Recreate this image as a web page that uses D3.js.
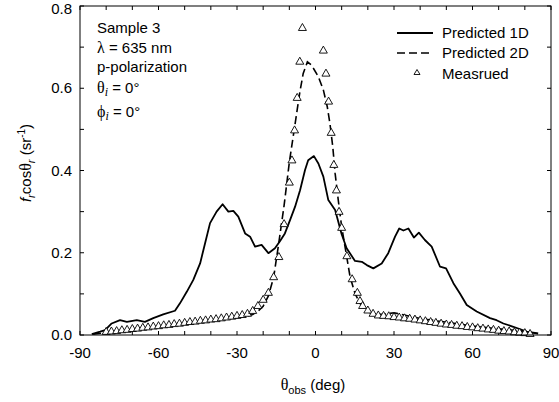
<!DOCTYPE html>
<html><head><meta charset="utf-8">
<script src="https://cdn.jsdelivr.net/npm/d3@7"></script>
<style>body{margin:0;background:#fff}svg{display:block}text{font-family:"Liberation Sans",Arial,sans-serif;fill:#000}</style>
</head><body>
<script>
// Predicted 1D (solid)
const solidX = [-85.5,-82.3,-80.4,-77.9,-74.7,-72.1,-68.3,-65.2,-62,-58.2,-53.7,-51.8,-49.2,-46.7,-44.1,-42.2,-40.3,-37.8,-35.5,-33.3,-31.4,-29.5,-26.9,-25,-23.1,-20.6,-18,-15.5,-13.6,-11.7,-9.7,-7.8,-5.9,-4.0,-2.8,-0.6,1.1,3.0,4.9,7.5,10,11.9,15.1,17.7,19.6,22.1,25.3,27.8,30.4,32,33.6,35.5,37.6,39.5,41.8,44.4,47.6,49.9,52.7,55.2,57.8,61.6,66.7,69.2,71.8,75.6,80.7,85.1];
const solidY = [0.002,0.008,0.012,0.028,0.036,0.032,0.036,0.032,0.041,0.050,0.059,0.077,0.105,0.134,0.174,0.223,0.272,0.300,0.318,0.300,0.302,0.288,0.247,0.239,0.215,0.219,0.199,0.211,0.228,0.247,0.280,0.312,0.352,0.401,0.425,0.435,0.417,0.385,0.328,0.304,0.245,0.211,0.180,0.178,0.170,0.162,0.174,0.199,0.239,0.259,0.254,0.259,0.237,0.249,0.231,0.215,0.166,0.162,0.126,0.101,0.073,0.057,0.041,0.036,0.028,0.020,0.008,0.004];
// Predicted 2D (dashed)
const dashedX = [-85,-80,-70,-60,-50,-40,-30,-26,-24,-22,-20,-18,-16,-14,-12,-10,-8,-6,-4.7,-3.1,-1.5,1.1,3.0,4.5,5.5,6.6,7.5,8.7,10,11.7,13.2,15.1,17,19.6,22,26,30,33,40,50,60,70,80,85];
const dashedY = [0.002,0.006,0.013,0.020,0.027,0.034,0.042,0.046,0.050,0.058,0.070,0.095,0.140,0.225,0.315,0.420,0.505,0.590,0.636,0.664,0.656,0.628,0.596,0.555,0.515,0.458,0.393,0.328,0.263,0.199,0.142,0.101,0.077,0.057,0.052,0.050,0.054,0.050,0.040,0.031,0.022,0.015,0.009,0.003];
// Measured (triangles)
const measX = [-80,-78,-76,-74,-72,-70,-68,-66,-64,-62,-60,-58,-56,-54,-52,-50,-48,-46,-44,-42,-40,-38,-36,-34,-32,-30,-28,-26,-24,-22,-20,-18,-16,-14,-12,-10,-9,-8,-7,-6,-5,
  3,4,5,6,7,8,9,10,12,14,16,17,18,20,22,24,26,28,30,32,34,36,38,40,42,44,46,48,50,52,54,56,58,60,62,64,66,68,70,72,74,76,78,80,82];
const measY = [0.010,0.011,0.012,0.014,0.015,0.017,0.018,0.020,0.021,0.023,0.024,0.026,0.027,0.029,0.030,0.032,0.034,0.035,0.037,0.038,0.040,0.041,0.043,0.045,0.047,0.049,0.051,0.054,0.061,0.073,0.088,0.105,0.143,0.192,0.272,0.373,0.427,0.500,0.579,0.667,0.749,
  0.694,0.638,0.570,0.494,0.416,0.354,0.302,0.263,0.194,0.138,0.105,0.085,0.073,0.062,0.054,0.050,0.049,0.048,0.046,0.045,0.043,0.042,0.040,0.038,0.036,0.034,0.032,0.030,0.028,0.027,0.025,0.024,0.022,0.021,0.019,0.018,0.016,0.015,0.013,0.012,0.011,0.009,0.008,0.007,0.005];
const xTickLabels = [-90,-60,-30,0,30,60,90];
const yTickLabels = ["0.0","0.2","0.4","0.6","0.8"];
const legendLabels = ["Predicted 1D","Predicted 2D","Measrued"];
const infoLines = ["Sample 3","λ = 635 nm","p-polarization","θi = 0°","ϕi = 0°"];

const W = 559, H = 402;
const L = 80, R = 551, T = 6, B = 335;
const svg = d3.select("body").append("svg").attr("width", W).attr("height", H);
const x = d3.scaleLinear().domain([-90, 90]).range([L, R]);
const y = d3.scaleLinear().domain([0, 0.8]).range([B, T]);

// ticks (inside)
const g = svg.append("g");
const xt = d3.range(-90, 91, 10), yt = d3.range(0, 0.801, 0.1);
g.selectAll(".xb").data(xt).join("line").attr("x1", d=>x(d)).attr("x2", d=>x(d)).attr("y1", B).attr("y2", B-4).attr("stroke","#000");
g.selectAll(".xt").data(xt).join("line").attr("x1", d=>x(d)).attr("x2", d=>x(d)).attr("y1", T).attr("y2", T+4).attr("stroke","#000");
g.selectAll(".yl").data(yt).join("line").attr("y1", d=>y(d)).attr("y2", d=>y(d)).attr("x1", L).attr("x2", L+4).attr("stroke","#000");
g.selectAll(".yr").data(yt).join("line").attr("y1", d=>y(d)).attr("y2", d=>y(d)).attr("x1", R).attr("x2", R-4).attr("stroke","#000");

svg.append("g").selectAll("text").data(xTickLabels).join("text")
  .attr("x", d=>x(d)).attr("y", 358).attr("text-anchor","middle").attr("font-size",15).text(d=>d);
svg.append("g").selectAll("text").data(yTickLabels).join("text")
  .attr("x", 72).attr("y", d=>Math.max(y(+d)+5, 13.5)).attr("text-anchor","end").attr("font-size",15).text(d=>d);

// lines
const lineGen = d3.line().x(d=>x(d[0])).y(d=>y(d[1]));
svg.append("path").datum(dashedX.map((v,i)=>[v,dashedY[i]])).attr("d", lineGen)
  .attr("fill","none").attr("stroke","#000").attr("stroke-width",1.6).attr("stroke-dasharray","8,4");
svg.append("path").datum(solidX.map((v,i)=>[v,solidY[i]])).attr("d", lineGen)
  .attr("fill","none").attr("stroke","#000").attr("stroke-width",1.8).attr("stroke-linejoin","round");

// triangles
function tri(w,h){return `M0,${-h/2}L${w/2},${h/2}L${-w/2},${h/2}Z`;}
svg.append("g").selectAll("path").data(measX.map((v,i)=>[v,measY[i]])).join("path")
  .attr("transform", d=>`translate(${x(d[0])},${y(d[1])})`).attr("d", tri(8,7))
  .attr("fill","#fff").attr("stroke","#000").attr("stroke-width",0.9);

// frame
svg.append("rect").attr("x",L).attr("y",T).attr("width",R-L).attr("height",B-T)
  .attr("fill","none").attr("stroke","#000").attr("stroke-width",1);

// legend
const lg = svg.append("g");
lg.append("line").attr("x1",397).attr("x2",433).attr("y1",33).attr("y2",33).attr("stroke","#000").attr("stroke-width",1.8);
lg.append("line").attr("x1",397).attr("x2",433).attr("y1",53).attr("y2",53).attr("stroke","#000").attr("stroke-width",1.6).attr("stroke-dasharray","8,4");
lg.append("path").attr("transform","translate(417,72)").attr("d",tri(6,5)).attr("fill","#fff").attr("stroke","#000").attr("stroke-width",0.9);
lg.selectAll("text").data(legendLabels).join("text").attr("x",442).attr("y",(d,i)=>[37.5,57.5,79][i]).attr("font-size",15).text(d=>d);

// info text
const serif = '"Liberation Serif","Times New Roman",serif';
const info = svg.append("g").attr("font-size",15);
info.append("text").attr("x",97).attr("y",33).text(infoLines[0]);
const l2 = info.append("text").attr("x",97).attr("y",53);
l2.append("tspan").style("font-family",serif).attr("font-size",16).text("λ");
l2.append("tspan").text(infoLines[1].slice(1));
info.append("text").attr("x",97).attr("y",72).text(infoLines[2]);
const l4 = info.append("text").attr("x",97).attr("y",93);
l4.append("tspan").style("font-family",serif).attr("font-size",16).text("θ");
l4.append("tspan").style("font-family",serif).attr("font-style","italic").attr("font-size",12).attr("dy",3).text("i");
l4.append("tspan").attr("dy",-3).text(infoLines[3].slice(2));
const l5 = info.append("text").attr("x",97).attr("y",117);
l5.append("tspan").style("font-family",serif).attr("font-size",16).text("ϕ");
l5.append("tspan").style("font-family",serif).attr("font-style","italic").attr("font-size",12).attr("dy",3).text("i");
l5.append("tspan").attr("dy",-3).text(infoLines[4].slice(2));

// axis titles
const xl = svg.append("text").attr("x",313).attr("y",390).attr("text-anchor","middle").attr("font-size",15);
xl.append("tspan").style("font-family",serif).attr("font-size",16).text("θ");
xl.append("tspan").attr("font-size",11).attr("dy",4).text("obs");
xl.append("tspan").attr("dy",-4).text(" (deg)");

const yl = svg.append("text").attr("transform","translate(31,163) rotate(-90)").attr("text-anchor","middle").attr("font-size",15);
yl.append("tspan").attr("font-style","italic").text("f");
yl.append("tspan").attr("font-style","italic").attr("font-size",11).attr("dy",4).text("r");
yl.append("tspan").attr("dy",-4).text("cos");
yl.append("tspan").style("font-family",serif).attr("font-size",16).text("θ");
yl.append("tspan").attr("font-style","italic").attr("font-size",11).attr("dy",4).text("r");
yl.append("tspan").attr("dy",-4).text(" (sr");
yl.append("tspan").attr("font-size",10).attr("dy",-6).text("-1");
yl.append("tspan").attr("dy",6).text(")");
</script>
</body></html>
